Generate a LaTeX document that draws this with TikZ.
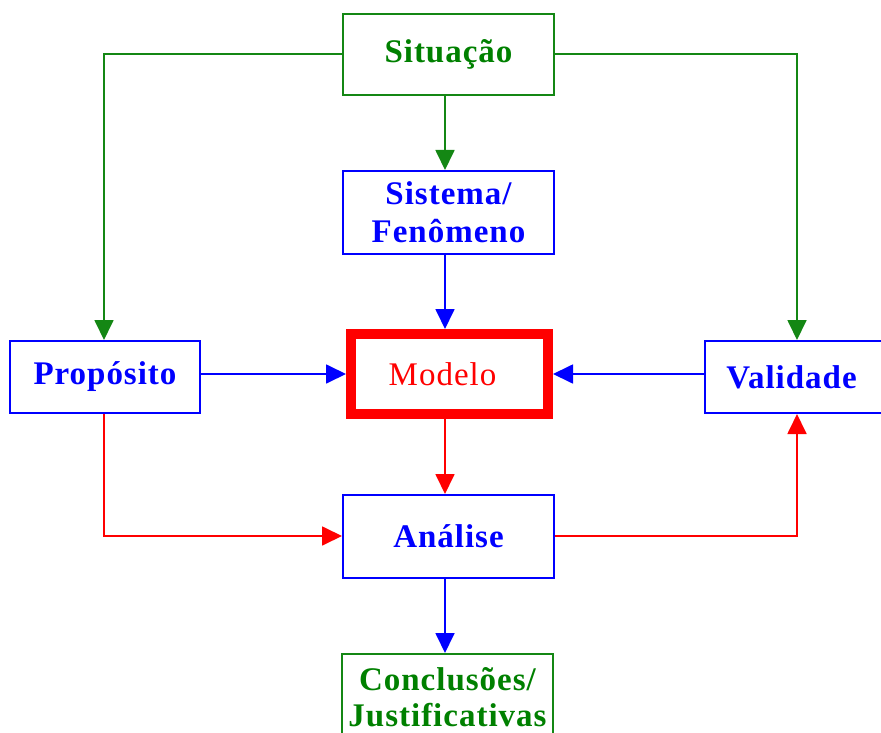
\documentclass[tikz,border=0pt]{standalone}
\usepackage{fontspec}
\setmainfont{Liberation Serif}[LetterSpace=3]
\usetikzlibrary{arrows.meta}
\definecolor{gtext}{RGB}{0,128,0}
\definecolor{gline}{RGB}{20,135,20}
\definecolor{bl}{RGB}{0,0,255}
\definecolor{rd}{RGB}{255,0,0}
\tikzset{
  box/.style={draw, rectangle, line width=2pt, inner sep=0pt, anchor=north west,
    font=\fontsize{33}{38}\selectfont\bfseries, align=center},
  gbox/.style={box, draw=gline, text=gtext},
  bbox/.style={box, draw=bl, text=bl},
  conn/.style={line width=1.8pt, -{Triangle[length=20pt,width=19pt]}},
  gc/.style={conn, draw=gline},
  bc/.style={conn, draw=bl},
  rc/.style={conn, draw=rd}
}
\begin{document}
\begin{tikzpicture}[x=1pt,y=-1pt]
\useasboundingbox (0,0) rectangle (881,733);
\clip (0,0) rectangle (881,733);
\node[gbox, minimum width=211pt, minimum height=81pt] (sit) at (342,13) {Situação};
\node[bbox, minimum width=211pt, minimum height=83pt] (sis) at (342,170) {Sistema/\\Fenômeno};
\node[draw=rd, line width=10pt, rectangle, inner sep=0pt, minimum width=197pt, minimum height=80pt,
  text=rd, font=\fontsize{33}{38}\selectfont] (mod) at (449.5,374) {\hspace*{-14pt}Modelo};
\node[bbox, minimum width=190pt, minimum height=72pt] (pro) at (9,340) {Propósito};
\node[bbox, minimum width=190pt, minimum height=72pt, text width=190pt] (val) at (704,340) {\hspace*{-17pt}Validade};
\node[bbox, minimum width=211pt, minimum height=83pt] (ana) at (342,494) {Análise};
\node[gbox, minimum width=211pt, minimum height=86pt, anchor=north,
  font=\fontsize{33}{36}\selectfont\bfseries] (con) at (447.5,653) {Conclusões/\\Justificativas};
\coordinate (c1) at (104,54);
\coordinate (c2) at (797,54);
\coordinate (c3) at (104,536);
\coordinate (c4) at (797,536);
\coordinate (mx) at (445,0);
\draw[gc] (sit.west |- c1) -- (c1) -- (c1 |- pro.north);
\draw[gc] (sit.east |- c2) -- (c2) -- (c2 |- val.north);
\draw[gc] (mx |- sit.south) -- (mx |- sis.north);
\draw[bc] (mx |- sis.south) -- (mx |- mod.north);
\draw[bc] (pro.east |- mod.west) -- (mod.west);
\draw[bc] (val.west |- mod.east) -- (mod.east);
\draw[rc] (mx |- mod.south) -- (mx |- ana.north);
\draw[rc] (c3 |- pro.south) -- (c3) -- (ana.west |- c3);
\draw[rc] (ana.east |- c4) -- (c4) -- (c4 |- val.south);
\draw[bc] (mx |- ana.south) -- (mx |- con.north);
\end{tikzpicture}
\end{document}
